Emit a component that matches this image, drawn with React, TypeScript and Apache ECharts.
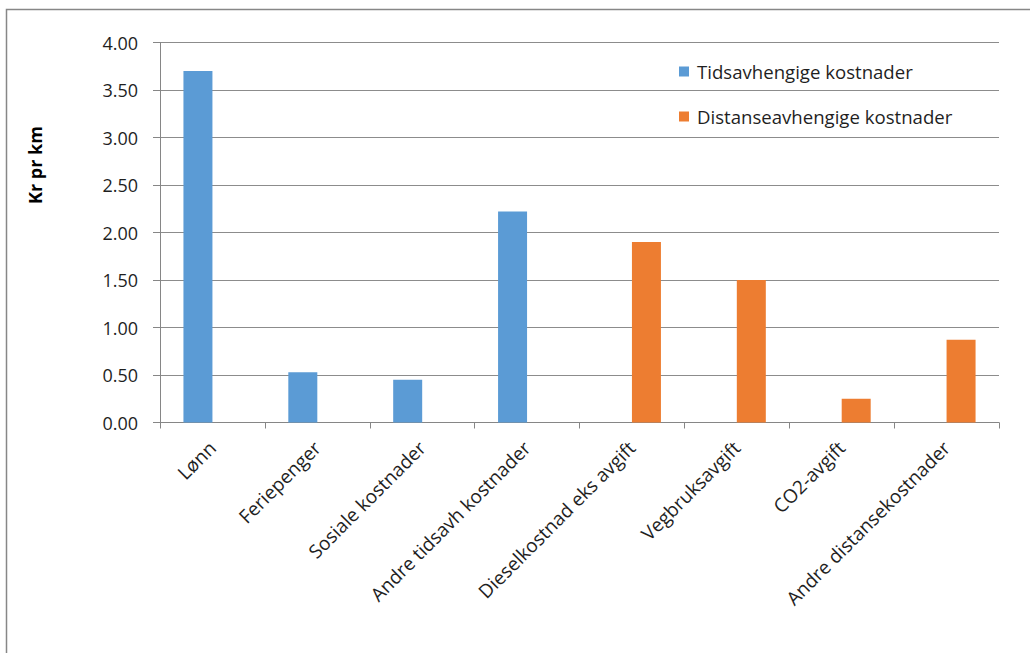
import React, { useEffect, useRef } from "react";
import * as echarts from "echarts";

// Cost components, kroner per kilometre
const categories = [
  "Lønn",
  "Feriepenger",
  "Sosiale kostnader",
  "Andre tidsavh kostnader",
  "Dieselkostnad eks avgift",
  "Vegbruksavgift",
  "CO2-avgift",
  "Andre distansekostnader",
];

const timeDependent: (number | null)[] = [3.7, 0.53, 0.45, 2.22, null, null, null, null];
const distanceDependent: (number | null)[] = [null, null, null, null, 1.9, 1.5, 0.25, 0.87];

const seriesNames = ["Tidsavhengige kostnader", "Distanseavhengige kostnader"];
const yAxisTitle = "Kr pr km";

const FONT = "'Open Sans', 'Noto Sans', sans-serif";
const TEXT = "#1f1f1f";

export default function App() {
  const ref = useRef<HTMLDivElement>(null);

  useEffect(() => {
    if (!ref.current) return;
    const chart = echarts.init(ref.current, null, { renderer: "svg" });
    chart.setOption({
      animation: false,
      backgroundColor: "#ffffff",
      textStyle: { fontFamily: FONT },
      grid: {
        left: 160,
        top: 42.5,
        right: 31,
        bottom: 230.5,
        containLabel: false,
        outerBoundsMode: "none",
      },
      legend: {
        orient: "vertical",
        left: 674,
        top: 57,
        itemWidth: 10,
        itemHeight: 10,
        itemGap: 26,
        icon: "rect",
        textStyle: { fontFamily: FONT, fontSize: 18.6, color: TEXT, padding: [0, 0, 0, 3] },
        data: seriesNames,
      },
      xAxis: {
        type: "category",
        data: categories,
        boundaryGap: true,
        axisLine: { show: true, lineStyle: { color: "#868686", width: 1 } },
        axisTick: { show: true, length: 6, alignWithLabel: false, lineStyle: { color: "#868686" } },
        axisLabel: {
          rotate: 45,
          interval: 0,
          margin: 22,
          fontFamily: FONT,
          fontSize: 19,
          color: TEXT,
        },
        splitLine: { show: false },
      },
      yAxis: {
        type: "value",
        min: 0,
        max: 4,
        interval: 0.5,
        axisLine: { show: true, lineStyle: { color: "#868686", width: 1 } },
        axisTick: { show: true, length: 7, lineStyle: { color: "#868686" } },
        axisLabel: {
          margin: 22,
          fontFamily: FONT,
          fontSize: 18,
          color: TEXT,
          formatter: (v: number) => v.toFixed(2),
        },
        splitLine: { show: true, lineStyle: { color: "#8c8c8c", width: 1 } },
      },
      series: [
        {
          name: seriesNames[0],
          type: "bar",
          data: timeDependent,
          barWidth: 29,
          barGap: "0%",
          itemStyle: { color: "#5B9BD5" },
        },
        {
          name: seriesNames[1],
          type: "bar",
          data: distanceDependent,
          barWidth: 29,
          barGap: "0%",
          itemStyle: { color: "#ED7D31" },
        },
      ],
      graphic: [
        {
          type: "rect",
          shape: { x: 6.5, y: 9.5, width: 2000, height: 2000 },
          style: { fill: "none", stroke: "#878787", lineWidth: 1.5 },
          silent: true,
        },
        {
          type: "text",
          x: 35,
          y: 165,
          rotation: Math.PI / 2,
          style: {
            text: yAxisTitle,
            fontFamily: FONT,
            fontSize: 18,
            fontWeight: "bold",
            fill: "#000000",
            align: "center",
            verticalAlign: "middle",
          },
        },
      ],
    });
    return () => chart.dispose();
  }, []);

  return (
    <div
      ref={ref}
      style={{ position: "fixed", left: 0, top: 0, width: 1030, height: 653, background: "#fff" }}
    />
  );
}
